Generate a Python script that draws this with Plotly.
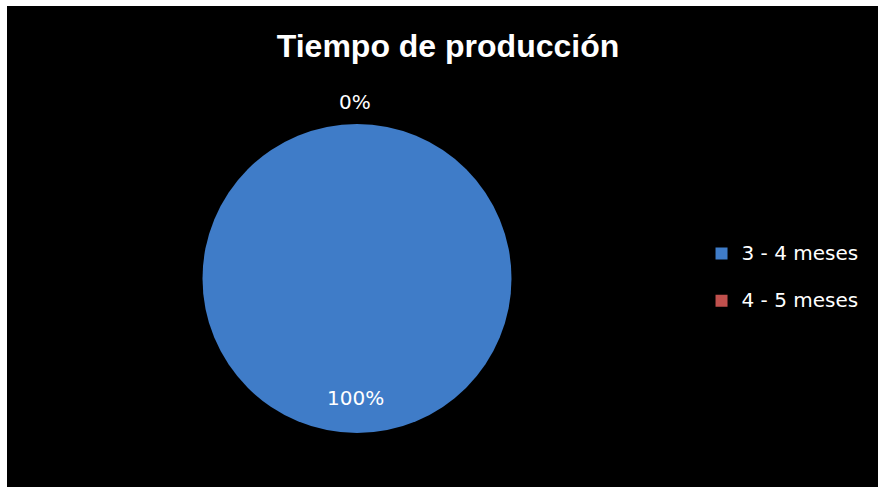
import plotly.graph_objects as go

title = "Tiempo de producción"
labels = ["3 - 4 meses", "4 - 5 meses"]
values = [100, 0]
colors = ["#3F7CC8", "#C0504D"]

total = sum(values)
pcts = [f"{round(v / total * 100)}%" for v in values]

W, H = 878, 487

fig = go.Figure()
fig.add_trace(go.Pie(
    labels=[f"<span style='font-size:20px'>{l}</span><br> " for l in labels],
    values=values,
    sort=False,
    direction="clockwise",
    rotation=0,
    textinfo="none",
    hoverinfo="percent",
    marker=dict(colors=colors, line=dict(width=0)),
    domain=dict(x=[202 / W, 512 / W], y=[1 - 433 / H, 1 - 124 / H]),
    showlegend=True,
))

# percentage labels
fig.add_annotation(x=355 / W, y=1 - 102 / H, xref="paper", yref="paper",
                   xanchor="center", yanchor="middle",
                   text=pcts[1], showarrow=False,
                   font=dict(family="DejaVu Sans", size=20, color="white"))
fig.add_annotation(x=355 / W, y=1 - 398 / H, xref="paper", yref="paper",
                   xanchor="center", yanchor="middle",
                   text=pcts[0], showarrow=False,
                   font=dict(family="DejaVu Sans", size=20, color="white"))

fig.update_layout(
    width=W, height=H,
    margin=dict(l=0, r=0, t=0, b=0),
    paper_bgcolor="white",
    plot_bgcolor="black",
    title=dict(text=f"<b>{title}</b>", x=448 / W, xanchor="center",
               y=1 - 46 / H, yanchor="middle",
               font=dict(family="Liberation Sans", size=32, color="white")),
    legend=dict(x=0.799, y=1 - 236 / H, xanchor="left", yanchor="top",
                valign="top",
                font=dict(family="DejaVu Sans", size=17, color="white"),
                bgcolor="rgba(0,0,0,0)"),
    shapes=[dict(type="rect", xref="paper", yref="paper",
                 x0=7 / W, x1=1, y0=0, y1=1 - 6 / H,
                 fillcolor="black", line=dict(width=0), layer="below")],
)

fig.write_html("out.html", config={"displayModeBar": False},
               post_script="document.body.style.margin='0';")
